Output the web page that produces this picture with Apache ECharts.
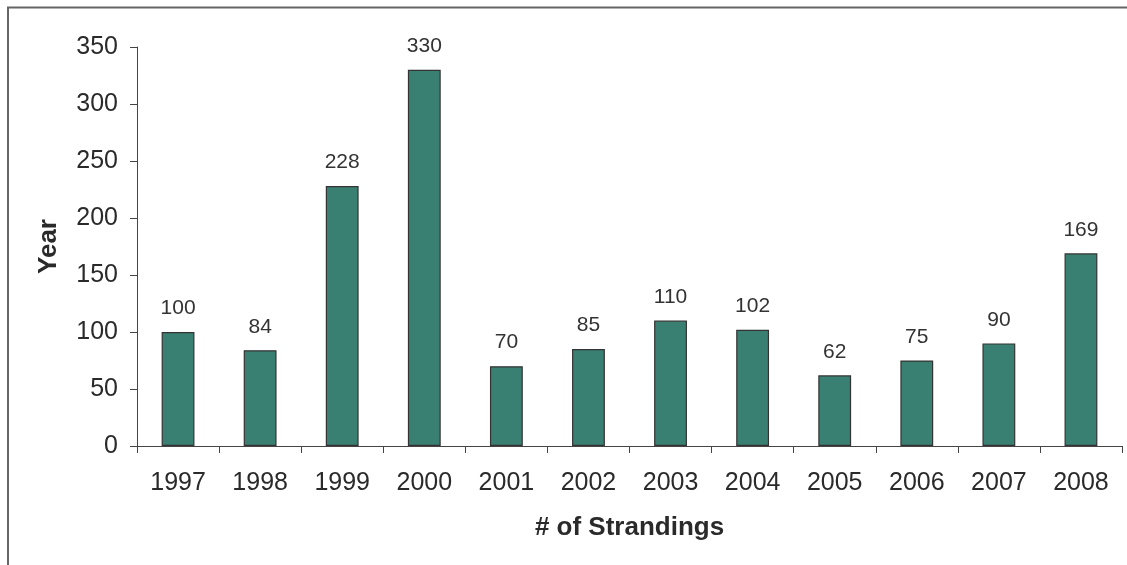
<!DOCTYPE html>
<html><head><meta charset="utf-8">
<script src="https://cdn.jsdelivr.net/npm/echarts@6/dist/echarts.min.js"></script>
<style>html,body{margin:0;padding:0;background:#fff;}#c{width:1127px;height:565px;}</style>
</head><body><div id="c"></div>
<script>
const years = ['1997','1998','1999','2000','2001','2002','2003','2004','2005','2006','2007','2008'];
const strandings = [100,84,228,330,70,85,110,102,62,75,90,169];
const yTicks = [0,50,100,150,200,250,300,350];

const chart = echarts.init(document.getElementById('c'));
const font = 'Liberation Sans, Arial, sans-serif';
chart.setOption({
  animation:false,
  backgroundColor:'#fff',
  graphic:[{type:'polyline',shape:{points:[[8,566],[8,7.5],[1128,7.5]]},style:{stroke:'#666',lineWidth:2,fill:null},silent:true}],
  grid:{left:137,right:5,top:47,bottom:119},
  xAxis:{type:'category',data:years,
    name:'# of Strandings',nameLocation:'middle',nameGap:69,
    nameTextStyle:{fontFamily:font,fontSize:26,fontWeight:'bold',color:'#2a2a2a'},
    axisLine:{lineStyle:{color:'#444',width:1}},
    axisTick:{show:true,alignWithLabel:false,length:7,lineStyle:{color:'#444'}},
    axisLabel:{fontFamily:font,fontSize:25,color:'#2a2a2a',margin:25}},
  yAxis:{type:'value',min:yTicks[0],max:yTicks[yTicks.length-1],interval:50,
    name:'Year',nameLocation:'middle',nameGap:75,nameRotate:90,
    nameTextStyle:{fontFamily:font,fontSize:26,fontWeight:'bold',color:'#2a2a2a'},
    splitLine:{show:false},
    axisLine:{show:true,lineStyle:{color:'#444',width:1}},
    axisTick:{show:true,length:7,lineStyle:{color:'#444'}},
    axisLabel:{fontFamily:font,fontSize:25,color:'#2a2a2a',margin:19}},
  series:[{type:'bar',data:strandings,barWidth:'40%',
    itemStyle:{color:'#3a8072',borderColor:'#333',borderWidth:1.2},
    label:{show:true,position:'top',distance:13,fontFamily:font,fontSize:21,color:'#333'}}]
});
</script></body></html>
